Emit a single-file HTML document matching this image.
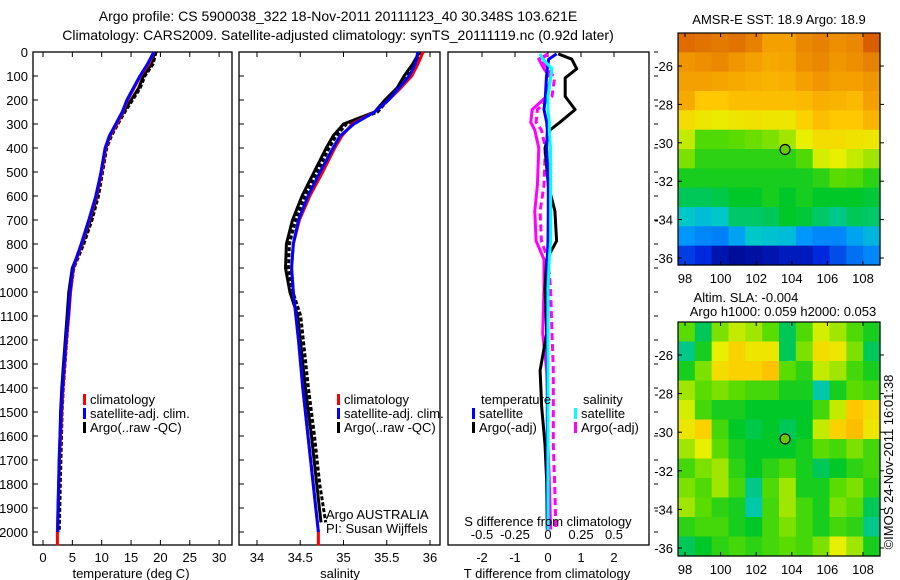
<!DOCTYPE html>
<html><head><meta charset="utf-8"><style>
body{margin:0;background:#fff;}
svg{display:block;font-family:"Liberation Sans",sans-serif;font-size:13px;}
.ttl{font-size:14px;}
</style></head><body>
<svg id="fig" width="900" height="580" viewBox="0 0 900 580">
<rect width="900" height="580" fill="#fff"/>
<text class="ttl" x="338" y="21" text-anchor="middle">Argo profile: CS 5900038_322 18-Nov-2011 20111123_40 30.348S 103.621E</text>
<text class="ttl" x="338" y="40" text-anchor="middle">Climatology: CARS2009. Satellite-adjusted climatology: synTS_20111119.nc (0.92d later)</text>
<g id="g"></g>
</svg>
<script>
// ---- data ----
const depths = [0,50,100,150,200,250,300,350,400,500,600,700,800,900,1000,1100,1200,1300,1400,1500,1600,1700,1800,1900,2000];
const tempClim = [18.9,18.0,16.6,15.5,14.4,13.6,12.6,11.4,10.7,10.0,9.1,7.9,6.6,5.2,4.7,4.4,4.0,3.7,3.4,3.2,3.0,2.8,2.7,2.55,2.45];
const tempSat  = [18.9,17.8,16.5,15.4,14.3,13.5,12.4,11.3,10.6,9.9,9.0,7.8,6.5,5.1,4.6,4.3,3.9,3.6,3.3,3.1,2.9,2.75,2.65,2.55,2.5];
const tempArgo = [19.0,18.5,17.1,16.3,15.0,13.7,12.5,11.4,10.6,9.9,9.2,8.1,6.7,5.0,4.4,4.1,3.8,3.5,3.2,3.0,2.9,2.8,2.7,2.6,2.5];
const salDepths = [0,50,100,150,200,250,300,350,400,500,600,700,800,900,1000,1100,1200,1400,1600,1800,2000];
const salClim = [35.92,35.86,35.79,35.66,35.52,35.36,35.10,34.98,34.90,34.76,34.61,34.49,34.42,34.40,34.42,34.45,34.48,34.53,34.59,34.65,34.71];
const salSat  = [35.86,35.83,35.76,35.64,35.52,35.36,35.12,34.96,34.88,34.73,34.59,34.48,34.42,34.40,34.42,34.45,34.48,34.53,34.59,34.65,34.71];
const salArgo = [35.88,35.80,35.70,35.62,35.48,35.36,35.00,34.88,34.80,34.66,34.52,34.41,34.34,34.33,34.38,34.47,34.50,34.56,34.63,34.69,34.74];
const diffDepths = [8,30,70,108,185,240,293,325,400,555,663,787,864,987,1173,1327,1481,1636,1790,1990];
const dTArgo = [0.31,0.72,0.87,0.52,0.52,0.82,0.36,0.06,-0.09,0.01,0.21,0.26,-0.04,-0.09,-0.04,-0.24,-0.19,-0.09,-0.04,-0.02];
const dTSat  = [0.26,0.02,-0.02,-0.05,-0.08,-0.12,-0.04,-0.02,-0.04,0.01,0.01,0.0,-0.02,-0.02,-0.02,-0.02,-0.02,-0.02,-0.02,-0.02];
const dSSat  = [-0.06,-0.04,0.03,0.02,0.0,0.0,0.01,0.01,0.02,0.02,0.02,0.02,0.01,0.0,0.0,0.0,0.0,0.0,0.0,0.0];
const dSArgo = [0.0,-0.07,-0.03,0.02,-0.01,-0.12,-0.13,-0.10,-0.07,-0.08,-0.10,-0.09,-0.03,-0.03,-0.04,-0.01,0.0,0.0,0.01,0.02];
const dSArgoRaw = [0.0,-0.05,0.0,0.05,0.03,-0.08,-0.09,-0.05,-0.02,-0.03,-0.06,-0.05,0.0,0.02,0.03,0.04,0.04,0.04,0.05,0.06];
const depthTicks = [0,100,200,300,400,500,600,700,800,900,1000,1100,1200,1300,1400,1500,1600,1700,1800,1900,2000];
const tempTicks = [0,5,10,15,20,25,30];
const salTicks = [34,34.5,35,35.5,36];
const tdTicks = [-2,-1,0,1,2];
const sdTicks = [-0.5,-0.25,0,0.25,0.5];
const lonTicks = [98,100,102,104,106,108];
const latTicks = [-26,-28,-30,-32,-34,-36];
const sstGrid = [
[.88,.87,.86,.87,.85,.80,.80,.84,.85,.83,.84,.90],
[.82,.83,.84,.82,.80,.78,.79,.83,.84,.82,.83,.85],
[.80,.80,.79,.78,.77,.76,.77,.80,.82,.80,.80,.82],
[.78,.72,.72,.74,.74,.74,.74,.75,.77,.76,.75,.80],
[.68,.66,.65,.66,.67,.66,.66,.70,.74,.72,.72,.76],
[.62,.55,.55,.56,.57,.58,.60,.64,.68,.68,.67,.66],
[.58,.52,.52,.52,.52,.52,.52,.55,.63,.64,.62,.60],
[.50,.50,.50,.50,.50,.50,.50,.50,.52,.56,.55,.52],
[.45,.45,.46,.48,.48,.50,.48,.50,.48,.48,.48,.47],
[.38,.36,.38,.44,.44,.45,.48,.47,.44,.42,.45,.44],
[.30,.28,.27,.32,.38,.37,.36,.30,.28,.28,.32,.35],
[.18,.15,.08,.05,.06,.08,.10,.10,.15,.20,.25,.28]];
const slaGrid = [
[.56,.45,.58,.62,.60,.56,.45,.55,.63,.60,.55,.50],
[.42,.50,.64,.70,.66,.66,.45,.58,.68,.66,.58,.45],
[.50,.58,.68,.70,.70,.73,.56,.52,.62,.60,.54,.50],
[.60,.56,.58,.56,.54,.54,.50,.50,.40,.50,.56,.54],
[.63,.54,.50,.50,.48,.48,.48,.48,.54,.62,.72,.68],
[.66,.70,.54,.48,.46,.48,.45,.48,.62,.70,.74,.66],
[.60,.64,.56,.50,.48,.48,.48,.50,.56,.54,.58,.54],
[.54,.58,.60,.52,.48,.52,.55,.50,.45,.48,.52,.54],
[.58,.55,.60,.54,.42,.55,.60,.50,.50,.56,.58,.52],
[.60,.56,.52,.50,.40,.54,.60,.54,.50,.58,.56,.45],
[.52,.54,.54,.50,.48,.54,.58,.54,.50,.54,.52,.42],
[.45,.48,.52,.54,.52,.54,.56,.54,.58,.64,.60,.50]];
const argoLon = 103.621, argoLat = -30.348;

// ---- helpers ----
const NS="http://www.w3.org/2000/svg";
const G=document.getElementById('g');
function el(t,a,p){const e=document.createElementNS(NS,t);for(const k in a)e.setAttribute(k,a[k]);(p||G).appendChild(e);return e;}
function txt(x,y,s,anchor,p){const e=el('text',{x:x,y:y,'text-anchor':anchor||'start'},p);e.textContent=s;return e;}
const yD = d => 52 + d*0.24;
const xT = v => 43 + v*5.87;
const xS = v => 257 + (v-34)*86.5;
const xTd = v => 548 + v*33;
const xSd = v => 548 + v*132;

function frame(x0,x1,name){
  const r=el('rect',{x:x0,y:52,width:x1-x0,height:493,fill:'none',stroke:'#000','stroke-width':1.3});
  
  
}
function line(xs,ds,xf,color,name,dash,w){
  const pts=xs.map((v,i)=>xf(v).toFixed(1)+','+yD(ds[i]).toFixed(1)).join(' ');
  const a={points:pts,fill:'none',stroke:color,'stroke-width':w||3,'stroke-linejoin':'round'};
  if(dash)a['stroke-dasharray']=dash;
  const p=el('polyline',a);
  
  
}
function legendEntry(x,y,color,label,name){
  const g=el('g',{});
  
  
  el('rect',{x:x,y:y-10,width:3,height:11,fill:color},g);
  txt(x+7,y,label,'start',g);
}

// ---- panel 1: temperature ----
frame(33,232,'temperature-panel');
depthTicks.forEach(d=>{
  el('line',{x1:33,x2:38,y1:yD(d),y2:yD(d),stroke:'#000'});
  const t=txt(28,yD(d)+5,String(d),'end');
  
  
});
tempTicks.forEach(v=>{
  el('line',{x1:xT(v),x2:xT(v),y1:545,y2:540,stroke:'#000'});
  el('line',{x1:xT(v),x2:xT(v),y1:52,y2:57,stroke:'#000'});
  const t=txt(xT(v),562,String(v),'middle');
  
  
});
line(tempArgo,depths,v=>xT(v)+1.5,'#000','temp-argo-raw-line','4,2',3);
line(tempArgo,depths,xT,'#000','temp-argo-line',null,3);
line(tempClim.concat([2.45]),depths.concat([2055]),xT,'#f00','temp-climatology-line',null,3);
line(tempSat,depths,xT,'#00f','temp-satellite-line',null,3);
{const t=txt(131,578,'temperature (deg C)','middle');}
legendEntry(83,404,'#f00','climatology','legend-climatology');
legendEntry(83,418,'#00f','satellite-adj. clim.','legend-satellite-adj');
legendEntry(83,432,'#000','Argo(..raw -QC)','legend-argo');

// ---- panel 2: salinity ----
frame(239,440,'salinity-panel');
depthTicks.forEach(d=>{el('line',{x1:239,x2:244,y1:yD(d),y2:yD(d),stroke:'#000'});});
salTicks.forEach(v=>{
  el('line',{x1:xS(v),x2:xS(v),y1:545,y2:540,stroke:'#000'});
  el('line',{x1:xS(v),x2:xS(v),y1:52,y2:57,stroke:'#000'});
  const t=txt(xS(v),562,String(v),'middle');
  
  
});
line(salArgo.slice(0,-1).concat([34.76]),salDepths.slice(0,-1).concat([1960]),v=>xS(v)+3,'#000','sal-argo-raw-line','4,2',3);
line(salArgo.slice(0,-1).concat([34.74]),salDepths.slice(0,-1).concat([1960]),xS,'#000','sal-argo-line',null,3);
line(salClim.concat([34.71]),salDepths.concat([2055]),xS,'#f00','sal-climatology-line',null,3);
line(salSat,salDepths,xS,'#00f','sal-satellite-line',null,3);
{const t=txt(340,578,'salinity','middle');}
legendEntry(337,404,'#f00','climatology','legend-climatology-2');
legendEntry(337,418,'#00f','satellite-adj. clim.','legend-satellite-adj-2');
legendEntry(337,432,'#000','Argo(..raw -QC)','legend-argo-2');
{const t=txt(326,519,'Argo AUSTRALIA');}
{const t=txt(326,533,'PI: Susan Wijffels');}

// ---- panel 3: differences ----
frame(448,649,'difference-panel');
depthTicks.forEach(d=>{el('line',{x1:654,x2:658,y1:yD(d),y2:yD(d),stroke:'#000'});});
tdTicks.forEach(v=>{
  el('line',{x1:xTd(v),x2:xTd(v),y1:52,y2:57,stroke:'#000'});
  const t=txt(xTd(v),562,String(v),'middle');
  
  
});
sdTicks.forEach(v=>{
  const t=txt(xSd(v),539,String(v),'middle');
  
  
});
line(dSArgoRaw,diffDepths,xSd,'#f0f','s-diff-argo-raw-line','7,4',3);
line(dSArgo,diffDepths,xSd,'#f0f','s-diff-argo-line',null,3);
line(dTArgo,diffDepths,xTd,'#000','t-diff-argo-line',null,3);
line(dTSat,diffDepths,xTd,'#00f','t-diff-satellite-line',null,3);
line(dSSat,diffDepths,xSd,'#0ff','s-diff-satellite-line',null,3);
{const t=txt(548,526,'S difference from climatology','middle');}
{const t=txt(547,578,'T difference from climatology','middle');}
{const t=txt(481,404,'temperature');}
{const t=txt(583,404,'salinity');}
legendEntry(472,418,'#00f','satellite','legend-t-satellite');
legendEntry(472,432,'#000','Argo(-adj)','legend-t-argo');
legendEntry(574,418,'#0ff','satellite','legend-s-satellite');
legendEntry(574,432,'#f0f','Argo(-adj)','legend-s-argo');

// ---- maps ----
function jet(v){
  const stops=[[0,[0,0,120]],[0.15,[0,40,220]],[0.3,[0,150,255]],[0.38,[0,200,200]],[0.48,[0,200,40]],[0.56,[90,220,0]],[0.64,[230,240,0]],[0.72,[255,200,0]],[0.82,[240,150,0]],[0.92,[210,80,0]],[1,[150,20,0]]];
  for(let i=1;i<stops.length;i++){if(v<=stops[i][0]){const a=stops[i-1],b=stops[i],t=(v-a[0])/(b[0]-a[0]);
    return 'rgb('+a[1].map((c,k)=>Math.round(c+(b[1][k]-c)*t)).join(',')+')';}}
  return 'rgb(150,20,0)';
}
function map(top,bottom,grid,name,lat26y,lat36y){
  const x0=678,x1=880;
  const g=el('g',{});
  
  
  const nr=grid.length,nc=grid[0].length,cw=(x1-x0)/nc,ch=(bottom-top)/nr;
  grid.forEach((row,r)=>row.forEach((v,c)=>{
    const cell=el('rect',{x:(x0+c*cw).toFixed(2),y:(top+r*ch).toFixed(2),width:(cw+0.6).toFixed(2),height:(ch+0.6).toFixed(2),fill:jet(v)},g);
    
    
  }));
  el('rect',{x:x0,y:top,width:x1-x0,height:bottom-top,fill:'none',stroke:'#000','stroke-width':1.2},g);
  const xL=lon=>685+(lon-98)*17.8;
  const yL=lat=>lat26y+(-26-lat)*(lat36y-lat26y)/10;
  lonTicks.forEach(l=>{
    el('line',{x1:xL(l),x2:xL(l),y1:bottom,y2:bottom-4,stroke:'#000'},g);
    el('line',{x1:xL(l),x2:xL(l),y1:top,y2:top+4,stroke:'#000'},g);
    txt(xL(l),bottom+18,String(l),'middle',g);
  });
  latTicks.forEach(l=>{
    el('line',{x1:x0,x2:x0+4,y1:yL(l),y2:yL(l),stroke:'#000'},g);
    el('line',{x1:x1,x2:x1+4,y1:yL(l),y2:yL(l),stroke:'#000'},g);
    txt(673,yL(l)+5,String(l),'end',g);
  });
  const c=el('circle',{cx:xL(argoLon),cy:yL(argoLat),r:5,fill:'#6c0',stroke:'#000','stroke-width':1.2},g);
  
  
}
map(33,265,sstGrid,'sst-map',66,258);
map(322,556,slaGrid,'sla-map',355,548);
{const t=txt(779,24,'AMSR-E SST: 18.9 Argo: 18.9','middle');}
{const t=txt(746,302,'Altim. SLA: -0.004','middle');}
{const t=txt(783,316,'Argo h1000: 0.059 h2000: 0.053','middle');}
{const t=txt(0,0,'©IMOS 24-Nov-2011 16:01:38','middle');t.setAttribute('transform','translate(893,462) rotate(-90)');}
</script>
</body></html>
